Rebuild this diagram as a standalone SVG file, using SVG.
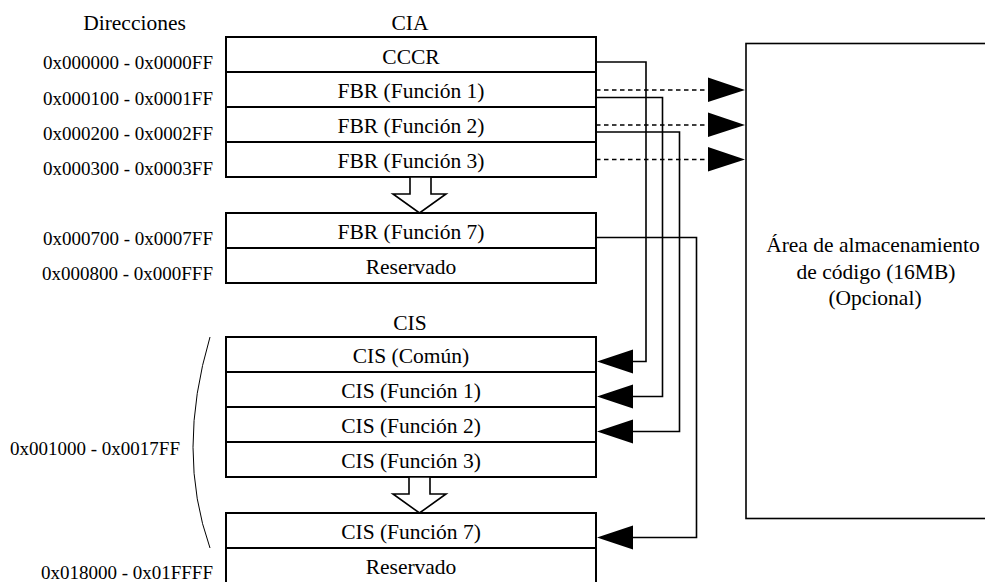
<svg xmlns="http://www.w3.org/2000/svg" width="985" height="582" viewBox="0 0 985 582">
  <style>
    .cell { fill: #fff; stroke: #000; stroke-width: 2; }
    .lbl { font-family: "Liberation Serif", "Times New Roman", serif; font-size: 21.5px; fill: #000; text-anchor: middle; }
    .addr { font-family: "Liberation Serif", "Times New Roman", serif; font-size: 19px; fill: #000; text-anchor: end; }
    .wire { fill: none; stroke: #000; stroke-width: 1.6; }
    .dash { fill: none; stroke: #000; stroke-width: 1.6; stroke-dasharray: 4.5 3.5; }
    .head { fill: #000; stroke: none; }
    .step { fill: #fff; stroke: #000; stroke-width: 1.6; stroke-linejoin: miter; }
  </style>

  <rect width="985" height="582" fill="#fff"/>

  <!-- column headings -->
  <text class="lbl" x="134.5" y="30">Direcciones</text>
  <text class="lbl" x="410" y="30">CIA</text>
  <text class="lbl" x="410" y="330">CIS</text>

  <!-- address labels -->
  <g id="addresses">
    <text class="addr" x="213" y="68.5">0x000000 - 0x0000FF</text>
    <text class="addr" x="213" y="105">0x000100 - 0x0001FF</text>
    <text class="addr" x="213" y="140">0x000200 - 0x0002FF</text>
    <text class="addr" x="213" y="175">0x000300 - 0x0003FF</text>
    <text class="addr" x="213" y="245">0x000700 - 0x0007FF</text>
    <text class="addr" x="213" y="280">0x000800 - 0x000FFF</text>
    <text class="addr" x="180" y="455">0x001000 - 0x0017FF</text>
    <text class="addr" x="213" y="579">0x018000 - 0x01FFFF</text>
    <path d="M210,337 Q176,452 210,548" fill="none" stroke="#000" stroke-width="1"/>
  </g>

  <!-- CIA region -->
  <g id="cccr">
    <rect class="cell" x="226" y="37" width="370" height="35"/>
    <text class="lbl" x="411" y="64">CCCR</text>
  </g>
  <g id="fbr1">
    <rect class="cell" x="226" y="72" width="370" height="35"/>
    <text class="lbl" x="411" y="98">FBR (Función 1)</text>
  </g>
  <g id="fbr2">
    <rect class="cell" x="226" y="107" width="370" height="35"/>
    <text class="lbl" x="411" y="133">FBR (Función 2)</text>
  </g>
  <g id="fbr3">
    <rect class="cell" x="226" y="142" width="370" height="35"/>
    <text class="lbl" x="411" y="168">FBR (Función 3)</text>
  </g>
  <g id="fbr7">
    <rect class="cell" x="226" y="213" width="370" height="35"/>
    <text class="lbl" x="411" y="239">FBR (Función 7)</text>
  </g>
  <g id="cia-reserved">
    <rect class="cell" x="226" y="248" width="370" height="35"/>
    <text class="lbl" x="411" y="274">Reservado</text>
  </g>

  <!-- CIS region -->
  <g id="cis-common">
    <rect class="cell" x="226" y="337" width="370" height="35"/>
    <text class="lbl" x="411" y="363">CIS (Común)</text>
  </g>
  <g id="cis1">
    <rect class="cell" x="226" y="372" width="370" height="35"/>
    <text class="lbl" x="411" y="398">CIS (Función 1)</text>
  </g>
  <g id="cis2">
    <rect class="cell" x="226" y="407" width="370" height="35"/>
    <text class="lbl" x="411" y="433">CIS (Función 2)</text>
  </g>
  <g id="cis3">
    <rect class="cell" x="226" y="442" width="370" height="35"/>
    <text class="lbl" x="411" y="468">CIS (Función 3)</text>
  </g>
  <g id="cis7">
    <rect class="cell" x="226" y="513" width="370" height="35"/>
    <text class="lbl" x="411" y="539">CIS (Función 7)</text>
  </g>
  <g id="cis-reserved">
    <rect class="cell" x="226" y="548" width="370" height="36"/>
    <text class="lbl" x="411" y="574">Reservado</text>
  </g>

  <!-- code storage area -->
  <g id="code-area">
    <rect x="746" y="43.5" width="260" height="475" fill="#fff" stroke="#000" stroke-width="1.6"/>
    <text class="lbl" x="873" y="252">Área de almacenamiento</text>
    <text class="lbl" x="876" y="279">de código (16MB)</text>
    <text class="lbl" x="875" y="305">(Opcional)</text>
  </g>

  <!-- connectors -->
  <g id="connectors">
    <!-- skipped ranges -->
    <polygon class="step" points="410,177 410,194 393,194 419.5,213 446,194 431,194 431,177"/>
    <polygon class="step" points="409,477 409,494 393,494 419.5,513 446,494 430,494 430,477"/>

    <!-- FBR to code area -->
    <line class="dash" x1="596" y1="90" x2="709" y2="90"/>
    <line class="dash" x1="596" y1="125" x2="709" y2="125"/>
    <line class="dash" x1="596" y1="159.5" x2="709" y2="159.5"/>
    <polygon class="head" points="708,77.5 745,90 708,102"/>
    <polygon class="head" points="708,112.5 745,125 708,137"/>
    <polygon class="head" points="708,147 745,159.5 708,171.5"/>

    <!-- CIA registers to CIS entries -->
    <polyline class="wire" points="596,62 646,62 646,361.5 632,361.5"/>
    <polyline class="wire" points="596,97.5 662.5,97.5 662.5,396.5 632,396.5"/>
    <polyline class="wire" points="596,132 679.5,132 679.5,431.5 632,431.5"/>
    <polyline class="wire" points="596,237.5 696.5,237.5 696.5,537.5 632,537.5"/>
    <polygon class="head" points="633,349.5 597,361.5 633,373.5"/>
    <polygon class="head" points="633,384.5 597,396.5 633,408.5"/>
    <polygon class="head" points="633,419.5 597,431.5 633,443.5"/>
    <polygon class="head" points="633,525.5 597,537.5 633,549.5"/>
  </g>
</svg>
